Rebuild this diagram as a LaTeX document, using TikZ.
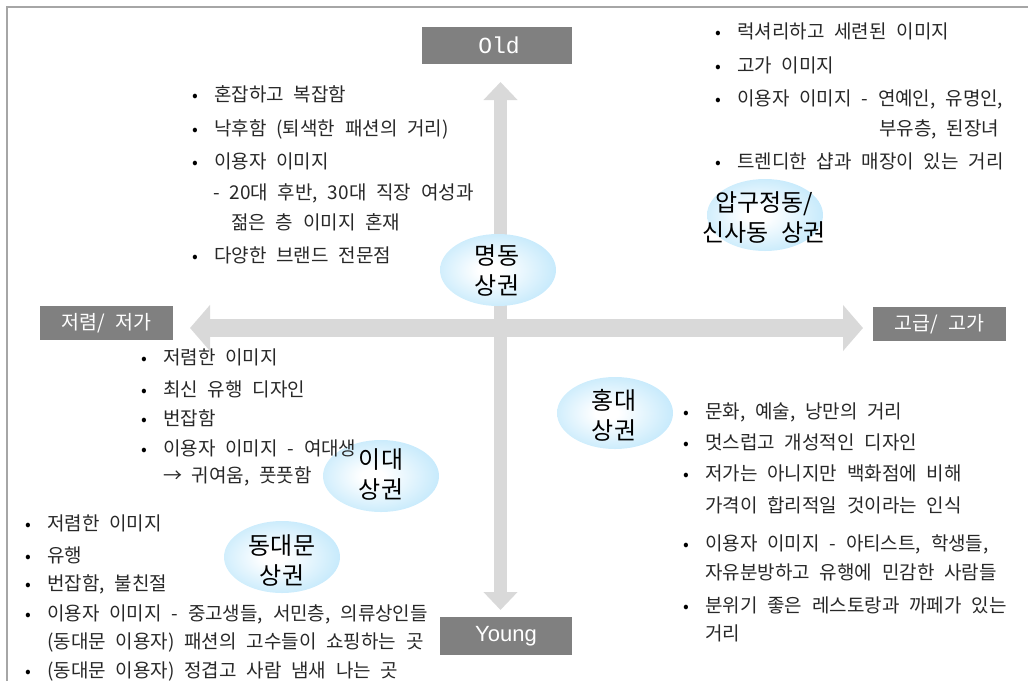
\documentclass[tikz,border=0pt]{standalone}
\usepackage{fontspec}
\usetikzlibrary{arrows.meta,shapes.geometric}
\newfontfamily\kr{Noto Sans CJK KR}[WordSpace=2.3]
\newfontfamily\lmono{Liberation Mono}
\newfontfamily\lsans{Liberation Sans}
\definecolor{axisgray}{RGB}{217,217,217}
\definecolor{boxgray}{RGB}{128,128,128}
\definecolor{framegray}{RGB}{166,166,166}
\definecolor{ellblue}{RGB}{140,212,248}
\definecolor{txtcol}{RGB}{40,40,40}
\pgfdeclareradialshading{ellshade}{\pgfpoint{-4bp}{0bp}}{color(0bp)=(white);color(5bp)=(white);color(50bp)=(ellblue)}
\tikzset{
  axisv/.style={draw=axisgray, line width=13pt, {Triangle[width=33pt,length=18pt]}-{Triangle[width=33pt,length=18pt]}},
  axish/.style={draw=axisgray, line width=18pt, {Triangle[width=45pt,length=20pt]}-{Triangle[width=45pt,length=20pt]}},
  gbox/.style={fill=boxgray, text=white, inner sep=0pt, font=\kr\fontsize{19.5}{19.5}\selectfont},
  ell/.style={ellipse, minimum width=116pt, minimum height=72pt, inner sep=0pt, shading=ellshade},
  elltxt/.style={font=\kr\fontsize{24}{30}\selectfont, align=center, text=black, inner sep=0pt},
  txt/.style={anchor=base west, inner sep=0pt, text=txtcol, font=\kr\fontsize{19}{19}\selectfont},
  bul/.style={anchor=base, inner sep=0pt, text=black, font=\kr\fontsize{17}{17}\selectfont},
  frame/.style={draw=framegray, line width=1.5pt}
}
\newcommand\bli[4]{\node[bul] (#1b) at (#2-19,#3+7) {•};\node[txt] (#1) at (#2,#3+7) {#4};}
\newcommand\cli[4]{\node[txt] (#1) at (#2,#3+7) {#4};}
\begin{document}
\begin{tikzpicture}[x=1pt,y=-1pt]
\useasboundingbox (0,0) rectangle (1028,681);
% frame
\coordinate (fa) at (7,681);
\coordinate (fb) at (7,7);
\coordinate (fc) at (1028,7);
\draw[frame] (fa) -- (fb) -- (fc);
% axes
\coordinate (vtop) at (500.5,82);
\coordinate (vbot) at (500.5,610);
\coordinate (hl) at (190,328);
\coordinate (hr) at (863,328);
\draw[axish] (hl) -- (hr);
\draw[axisv] (vbot) -- (vtop);
% ellipses
\node[ell] (md) at (498,270) {};
\node[elltxt] (mdt) at (497,270) {명동\\상권};
\node[ell] (ap) at (765,215) {};
\node[elltxt] (apt) at (764,218) {압구정동/\\신사동 상권};
\node[ell] (hd) at (615,413) {};
\node[elltxt] (hdt) at (614,415) {홍대\\상권};
\node[ell] (ed) at (381,476) {};
\node[elltxt] (edt) at (381,474) {이대\\상권};
\node[ell] (dd) at (282,557) {};
\node[elltxt] (ddt) at (282,560) {동대문\\상권};
% boxes
\node[gbox, minimum width=150pt, minimum height=37pt] (old) at (497,45.5) {};
\node[text=white, inner sep=0pt, font=\lmono\fontsize{23}{23}\selectfont] (oldt) at (499,45) {Old};
\node[gbox, minimum width=132pt, minimum height=38pt, font=\lsans\fontsize{22}{22}\selectfont] (young) at (506,636) {Young};
\node[gbox, minimum width=133pt, minimum height=34pt] (low) at (106.5,323) {저렴/ 저가};
\node[gbox, minimum width=133pt, minimum height=34pt] (high) at (939.5,324) {고급/ 고가};
% top-left list
\bli{a1}{214}{94}{혼잡하고 복잡함}
\bli{a2}{214}{128}{낙후함 (퇴색한 패션의 거리)}
\bli{a3}{214}{161}{이용자 이미지}
\cli{a4}{213}{192}{- 20대 후반, 30대 직장 여성과}
\cli{a5}{231}{222}{젊은 층 이미지 혼재}
\bli{a6}{214}{255}{다양한 브랜드 전문점}
% top-right list
\bli{b1}{737}{31}{럭셔리하고 세련된 이미지}
\bli{b2}{737}{65}{고가 이미지}
\bli{b3}{737}{98}{이용자 이미지 - 연예인, 유명인,}
\cli{b4}{879}{128}{부유층, 된장녀}
\bli{b5}{737}{161}{트렌디한 샵과 매장이 있는 거리}
% left-middle list
\bli{c1}{163}{357}{저렴한 이미지}
\bli{c2}{163}{389}{최신 유행 디자인}
\bli{c3}{163}{418}{번잡함}
\bli{c4}{163}{448}{이용자 이미지 - 여대생}
\cli{c5}{163}{475}{→ 귀여움, 풋풋함}
% bottom-left list
\bli{d1}{47}{523}{저렴한 이미지}
\bli{d2}{47}{555}{유행}
\bli{d3}{47}{583}{번잡함, 불친절}
\bli{d4}{47}{613}{이용자 이미지 - 중고생들, 서민층, 의류상인들}
\cli{d5}{47}{641}{(동대문 이용자) 패션의 고수들이 쇼핑하는 곳}
\bli{d6}{47}{670}{(동대문 이용자) 정겹고 사람 냄새 나는 곳}
% right-bottom list
\bli{e1}{705}{411}{문화, 예술, 낭만의 거리}
\bli{e2}{705}{442}{멋스럽고 개성적인 디자인}
\bli{e3}{705}{473}{저가는 아니지만 백화점에 비해}
\cli{e4}{705}{505}{가격이 합리적일 것이라는 인식}
\bli{e5}{705}{543}{이용자 이미지 - 아티스트, 학생들,}
\cli{e6}{705}{572}{자유분방하고 유행에 민감한 사람들}
\bli{e7}{705}{605}{분위기 좋은 레스토랑과 까페가 있는}
\cli{e8}{705}{633}{거리}
\end{tikzpicture}
\end{document}
